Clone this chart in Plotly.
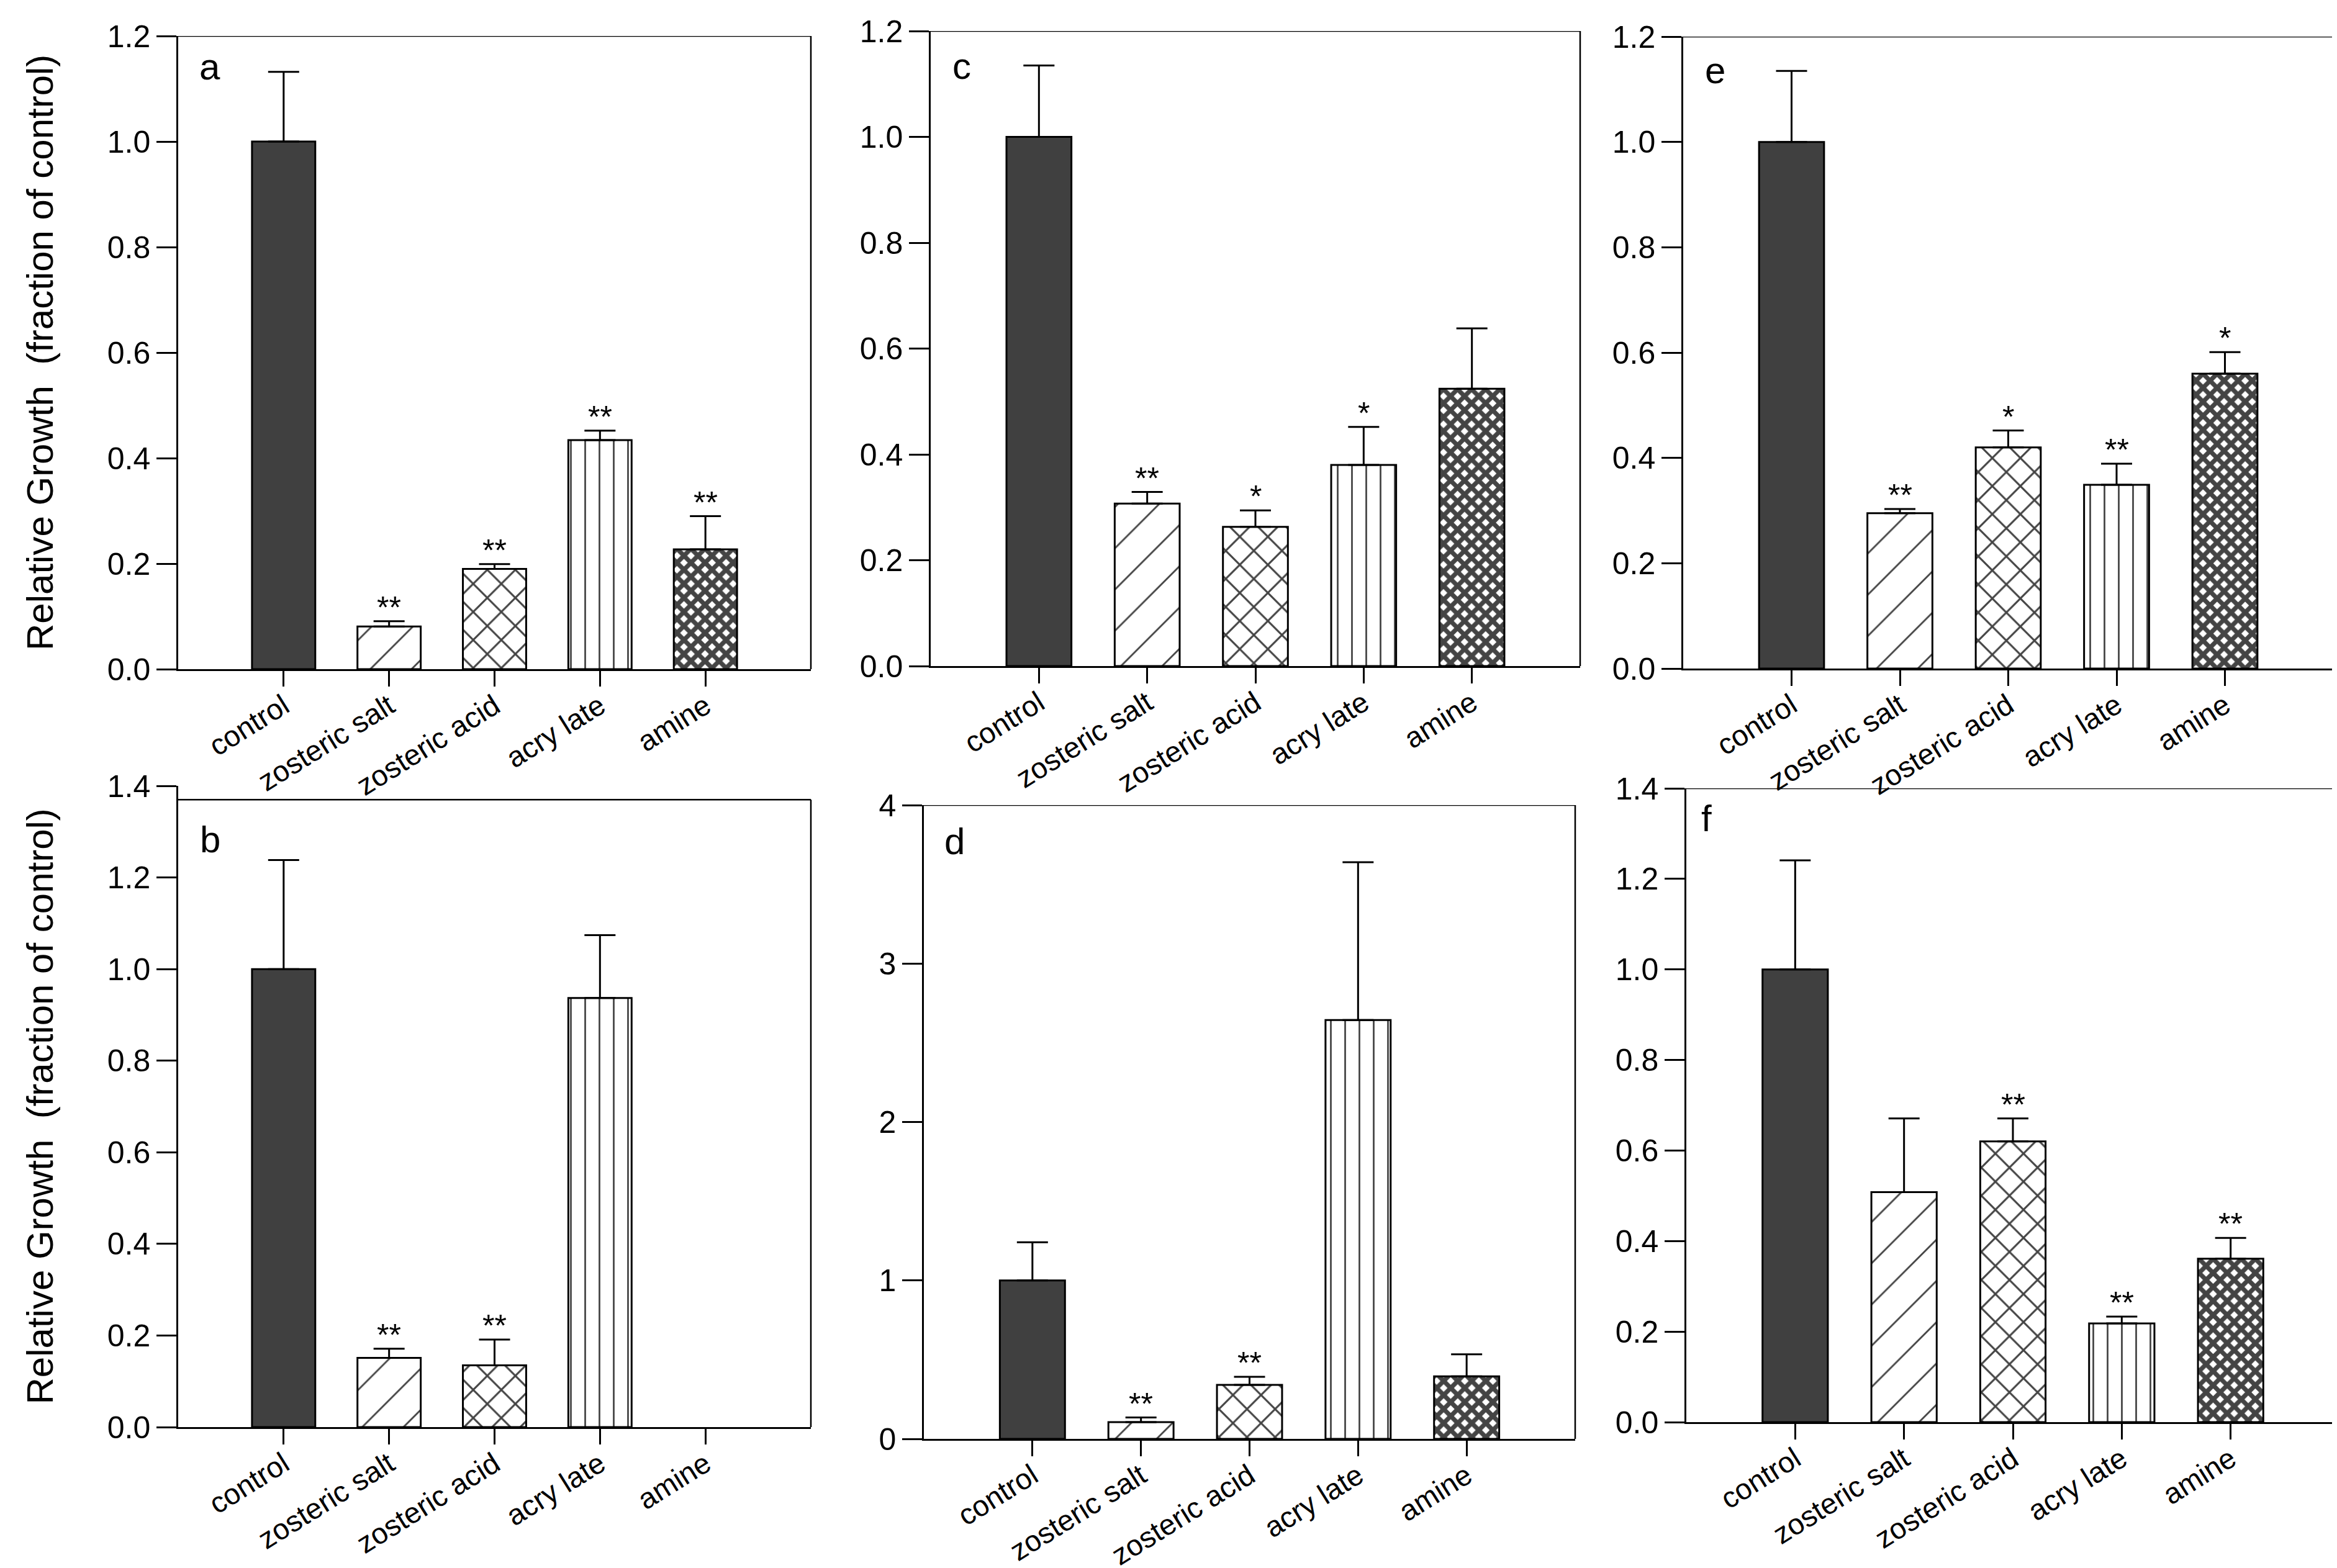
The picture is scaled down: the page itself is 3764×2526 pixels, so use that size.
"""Relative growth bar panels a-f."""
import plotly.graph_objects as go
from plotly.subplots import make_subplots

W, H = 3764, 2526

categories = ["control", "zosteric salt", "zosteric acid", "acry late", "amine"]

# bar means and upper error (SE) per panel
a_mean = [1.0, 0.081, 0.19, 0.434, 0.227]
a_err = [0.132, 0.010, 0.009, 0.018, 0.063]
a_star = ["", "**", "**", "**", "**"]

c_mean = [1.0, 0.307, 0.263, 0.380, 0.524]
c_err = [0.135, 0.022, 0.031, 0.072, 0.114]
c_star = ["", "**", "*", "*", ""]

e_mean = [1.0, 0.295, 0.420, 0.349, 0.560]
e_err = [0.135, 0.008, 0.032, 0.040, 0.041]
e_star = ["", "**", "*", "**", "*"]

b_mean = [1.0, 0.151, 0.135, 0.937, None]
b_err = [0.238, 0.020, 0.056, 0.137, None]
b_star = ["", "**", "**", "", ""]

d_mean = [1.0, 0.106, 0.341, 2.643, 0.395]
d_err = [0.241, 0.029, 0.051, 0.997, 0.139]
d_star = ["", "**", "**", "", ""]

f_mean = [1.0, 0.508, 0.620, 0.218, 0.361]
f_err = [0.241, 0.163, 0.051, 0.015, 0.046]
f_star = ["", "", "**", "**", "**"]

# hatch style per category
bar_fill = ["#404040", "white", "white", "white", "white"]
hatch = ["", "/", "x", "|", "x"]
hatch_size = [10, 47, 32, 23, 16]
hatch_solid = [0.1, 0.06, 0.18, 0.12, 0.7]

# panel: (letter, mean, err, stars, row, col, ymax, dtick, fmt, box_top,
#         box px [left, right, top, bottom], letter px [x, y])
panels = [
    ("a", a_mean, a_err, a_star, 1, 1, 1.2, 0.2, ".1f", 1.2, [279, 1298, 50, 1070], [330, 100]),
    ("c", c_mean, c_err, c_star, 1, 2, 1.2, 0.2, ".1f", 1.2, [1491, 2537, 42, 1065], [1541, 98]),
    ("e", e_mean, e_err, e_star, 1, 3, 1.2, 0.2, ".1f", 1.2, [2703, 3750, 51, 1069], [2754, 106]),
    ("b", b_mean, b_err, b_star, 2, 1, 1.4, 0.2, ".1f", 1.37, [279, 1298, 1258, 2291], [330, 1344]),
    ("d", d_mean, d_err, d_star, 2, 2, 4, 1, "d", 4, [1480, 2529, 1289, 2310], [1529, 1347]),
    ("f", f_mean, f_err, f_star, 2, 3, 1.4, 0.2, ".1f", 1.4, [2708, 3760, 1262, 2283], [2740, 1310]),
]

FONT = "Liberation Sans, Arial, sans-serif"

fig = make_subplots(rows=2, cols=3)
annotations = []
shapes = []

for i, (letter, mean, err, star, r, c, ymax, dtick, fmt, top, box, lpos) in enumerate(panels):
    n = i + 1
    ax = "" if n == 1 else str(n)
    fig.add_trace(go.Bar(
        x=categories, y=mean,
        marker=dict(
            color=bar_fill,
            line=dict(color="black", width=3),
            pattern=dict(shape=hatch, size=hatch_size, solidity=hatch_solid,
                         fgcolor="black", fgopacity=1, fillmode="overlay"),
        ),
        error_y=dict(type="data", array=err, arrayminus=[0] * len(err), symmetric=False,
                     color="black", thickness=3, width=25),
        showlegend=False,
    ), row=r, col=c)

    left, right, ptop, bottom = box
    fig.update_xaxes(domain=[left / W, right / W], range=[-1, 5], type="category",
                     automargin=False,
                     showline=True, linecolor="black", linewidth=2.5,
                     ticks="outside", ticklen=25, tickwidth=2.5, tickcolor="black",
                     tickangle=-32, ticklabelstandoff=-14,
                     tickfont=dict(size=47, color="black", family=FONT),
                     showgrid=False, zeroline=False, row=r, col=c)
    fig.update_yaxes(domain=[1 - bottom / H, 1 - ptop / H], range=[0, ymax], dtick=dtick,
                     tickformat=fmt, automargin=False,
                     showline=True, linecolor="black", linewidth=2.5,
                     ticks="outside", ticklen=32, tickwidth=2.5, tickcolor="black",
                     tickfont=dict(size=50, color="black", family=FONT),
                     showgrid=False, zeroline=False, row=r, col=c)

    # top and right edges of the frame
    shapes.append(dict(type="line", xref=f"x{ax} domain", yref=f"y{ax}",
                       x0=0, x1=1, y0=top, y1=top, line=dict(color="black", width=2.5)))
    shapes.append(dict(type="line", xref=f"x{ax} domain", yref=f"y{ax}",
                       x0=1, x1=1, y0=0, y1=top, line=dict(color="black", width=2.5)))

    annotations.append(dict(text=letter, xref="paper", yref="paper",
                            x=lpos[0] / W, y=1 - lpos[1] / H, xanchor="center", yanchor="middle",
                            showarrow=False, font=dict(size=60, color="black", family=FONT)))

    for cat, m, e, s in zip(categories, mean, err, star):
        if s and m is not None:
            annotations.append(dict(text=s, x=cat, y=m + e, xref=f"x{ax}", yref=f"y{ax}",
                                    xanchor="center", yanchor="bottom", yshift=-8,
                                    showarrow=False,
                                    font=dict(size=50, color="black", family=FONT)))

ytitle = "Relative Growth  (fraction of control)"
for yc in [(50 + 1070) / 2, (1258 + 2291) / 2]:
    annotations.append(dict(text=ytitle, xref="paper", yref="paper", x=56 / W, y=1 - yc / H,
                            xanchor="center", yanchor="middle", textangle=-90, showarrow=False,
                            font=dict(size=60, color="black", family=FONT)))

fig.update_layout(
    template="none",
    width=W, height=H,
    margin=dict(l=0, r=0, t=0, b=0, autoexpand=False),
    plot_bgcolor="white", paper_bgcolor="white",
    bargap=0.4,
    annotations=annotations,
    shapes=shapes,
    font=dict(family=FONT, color="black"),
)

fig.write_html("out.html")
